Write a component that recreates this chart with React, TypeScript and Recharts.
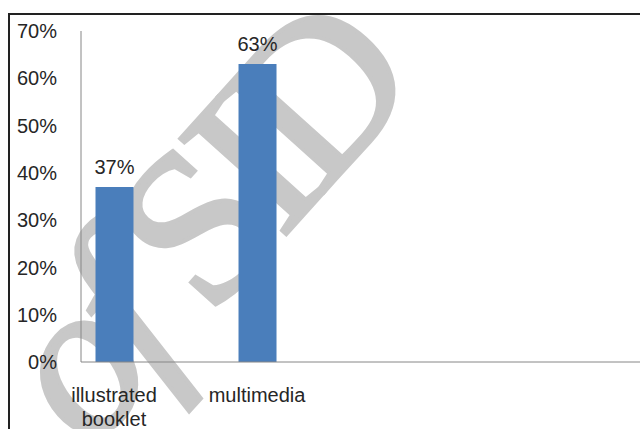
import { BarChart, Bar, XAxis, YAxis, LabelList } from "recharts";

const categories = ["illustrated booklet", "multimedia"];
const shares = [37, 63];
const yTicks = [0, 10, 20, 30, 40, 50, 60, 70];

const data = categories.map((name, i) => ({ idx: i, name, share: shares[i] }));

const FONT = "'Liberation Sans', Arial, sans-serif";
const TEXT = "#262626";
const AXIS = "#868686";

function CategoryTick(props: any) {
  const { x, y, payload } = props;
  const name = categories[payload.value] ?? "";
  const words = name.split(" ");
  return (
    <text x={x} y={y} textAnchor="middle" fill={TEXT} fontSize={20} fontFamily={FONT}>
      {words.map((w, i) => (
        <tspan key={i} x={x} dy={i === 0 ? 40 : 24}>
          {w}
        </tspan>
      ))}
    </text>
  );
}

export default function App() {
  return (
    <div style={{ position: "fixed", left: 0, top: 0, width: 640, height: 429, background: "#fff", overflow: "hidden" }}>
      {/* watermark behind the chart */}
      <svg width={640} height={429} style={{ position: "absolute", left: 0, top: 0 }}>
        <text
          x={90}
          y={452}
          transform="rotate(-48 90 452)"
          fontFamily="'Liberation Serif', 'DejaVu Serif', serif"
          fontSize={218}
          letterSpacing={-15}
          fill="#c8c8c8"
          stroke="#c8c8c8"
          strokeWidth={4}
        >
          <tspan fontStyle="italic">of</tspan> SID
        </text>
      </svg>
      <div style={{ position: "absolute", left: 8, top: 13, width: 632, height: 2, background: "#222" }} />
      <div style={{ position: "absolute", left: 8, top: 13, width: 2, height: 416, background: "#222" }} />
      <div style={{ position: "absolute", left: 0, top: 0 }}>
        <BarChart
          width={640}
          height={429}
          data={data}
          margin={{ top: 31, right: 0, bottom: 0, left: 0 }}
          barSize={38}
        >
          <XAxis
            dataKey="idx"
            type="number"
            domain={[-0.2308, 3.678]}
            ticks={[0, 1]}
            interval={0}
            height={67}
            axisLine={{ stroke: AXIS, strokeWidth: 1 }}
            tickLine={false}
            tickSize={0}
            tickMargin={0}
            tick={<CategoryTick />}
          />
          <YAxis
            domain={[0, 70]}
            ticks={yTicks}
            width={81}
            axisLine={{ stroke: AXIS, strokeWidth: 1 }}
            tickLine={false}
            tickSize={0}
            tickMargin={24}
            tickFormatter={(v) => `${v}%`}
            tick={{ fill: TEXT, fontSize: 20, fontFamily: FONT }}
          />
          <Bar dataKey="share" fill="#4a7ebb" isAnimationActive={false}>
            <LabelList
              dataKey="share"
              position="top"
              offset={13}
              formatter={(v: any) => `${v}%`}
              fill={TEXT}
              fontSize={20}
              fontFamily={FONT}
            />
          </Bar>
        </BarChart>
      </div>
    </div>
  );
}
